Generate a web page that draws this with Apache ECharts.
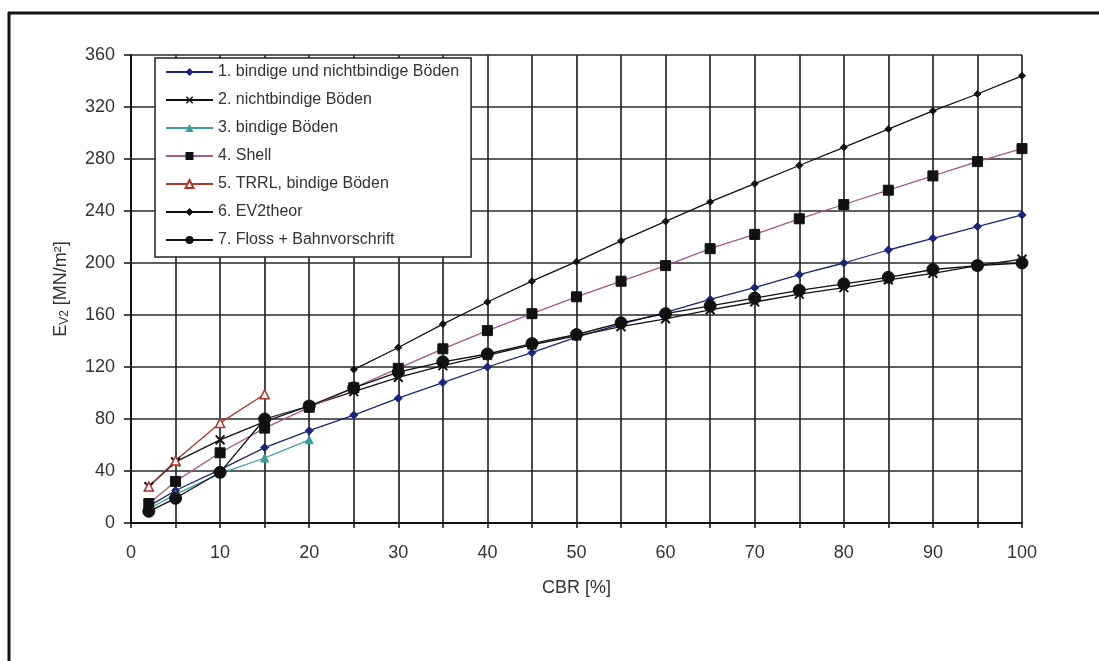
<!DOCTYPE html>
<html><head><meta charset="utf-8">
<script src="https://cdn.jsdelivr.net/npm/echarts@6/dist/echarts.min.js"></script>
<style>html,body{margin:0;padding:0;background:#fff}#c{width:1099px;height:661px}</style>
</head><body><div id="c"></div>
<script>
var xFull = [2,5,10,15,20,25,30,35,40,45,50,55,60,65,70,75,80,85,90,95,100];
var xShort = [2,5,10,15,20];
var xTrrl = [2,5,10,15];
var xTheor = [25,30,35,40,45,50,55,60,65,70,75,80,85,90,95,100];
var s1 = [13,25,41,58,71,83,96,108,120,131,143,153,162,172,181,191,200,210,219,228,237];
var s2 = [28,47,64,78,90,101,112,121,129,137,144,151,157,164,170,176,181,187,192,198,203];
var s3 = [11,22,38,50,64];
var s4 = [15,32,54,73,89,104,119,134,148,161,174,186,198,211,222,234,245,256,267,278,288];
var s5 = [28,48,77,99];
var s6 = [118,135,153,170,186,201,217,232,247,261,275,289,303,317,330,344];
var s7 = [9,19,39,80,90,104,116,124,130,138,145,154,161,167,173,179,184,189,195,198,200];
var names = ['1. bindige und nichtbindige Böden','2. nichtbindige Böden','3. bindige Böden','4. Shell','5. TRRL, bindige Böden','6. EV2theor','7. Floss + Bahnvorschrift'];
var yTicks = [0,40,80,120,160,200,240,280,320,360];
var xTicks = [0,10,20,30,40,50,60,70,80,90,100];

function pairs(xs, ys){ return xs.map(function(x,i){return [x, ys[i]];}); }
function ser(name, xs, ys, lineColor, symbol, size, mColor, extra){
  var o = {name:name, type:'line', data:pairs(xs,ys), symbol:symbol, symbolSize:size,
    lineStyle:{color:lineColor, width:1.3}, itemStyle:{color:mColor, borderColor:mColor},
    emphasis:{disabled:true}, animation:false, z:3};
  if (extra) for (var k in extra) o[k]=extra[k];
  return o;
}
var xIcon = 'image://data:image/svg+xml;utf8,'+encodeURIComponent('<svg xmlns="http://www.w3.org/2000/svg" width="10" height="10"><path d="M1 1L9 9M9 1L1 9" stroke="#111" stroke-width="1.8"/></svg>');
var chart = echarts.init(document.getElementById('c'));
chart.setOption({
  backgroundColor:'#fff',
  animation:false,
  textStyle:{fontFamily:'Liberation Sans, Arial, sans-serif'},
  grid:{left:131, right:77, top:55, bottom:138, containLabel:false},
  xAxis:{type:'value', min:0, max:100, interval:5,
    name:'CBR [%]', nameLocation:'middle', nameGap:56,
    nameTextStyle:{color:'#333', fontSize:18},
    axisLine:{lineStyle:{color:'#111', width:2}},
    axisTick:{show:true, length:5, lineStyle:{color:'#111', width:1.5}},
    axisLabel:{color:'#333', fontSize:18, margin:21,
      formatter:function(v){ return xTicks.indexOf(v)>=0 ? String(v) : ''; }},
    splitLine:{show:true, lineStyle:{color:'#2a2a2a', width:1.7}}
  },
  yAxis:{type:'value', min:0, max:360, interval:40,
    name:'E{sub|V2} [MN/m²]', nameLocation:'middle', nameGap:60, nameRotate:90,
    nameTextStyle:{color:'#333', fontSize:18, rich:{sub:{fontSize:12, verticalAlign:'bottom', padding:[8,0,0,0], color:'#333'}}},
    axisLine:{show:true, lineStyle:{color:'#111', width:2}},
    axisTick:{show:true, length:7, lineStyle:{color:'#111', width:1.5}},
    axisLabel:{color:'#333', fontSize:18, margin:16,
      formatter:function(v){ return yTicks.indexOf(v)>=0 ? String(v) : ''; }},
    splitLine:{show:true, lineStyle:{color:'#2a2a2a', width:1.7}}
  },
  legend:{orient:'vertical', left:155, top:58,
    backgroundColor:'#fff', borderColor:'#222', borderWidth:1.5,
    padding:[5,12,8,10], itemGap:10, itemWidth:47, itemHeight:10,
    textStyle:{color:'#333', fontSize:16, lineHeight:18},
    data:names, z:10},
  graphic:[
    {type:'line', shape:{x1:8, y1:13, x2:1099, y2:13}, style:{stroke:'#111', lineWidth:3}, z:100},
    {type:'line', shape:{x1:9, y1:12, x2:9, y2:661}, style:{stroke:'#111', lineWidth:3}, z:100}
  ],
  series:[
    ser(names[0], xFull, s1, '#1a237e', 'diamond', 8, '#1a237e'),
    ser(names[1], xFull, s2, '#111', xIcon, 11, '#111'),
    ser(names[2], xShort, s3, '#3a9e9e', 'triangle', 8, '#3a9e9e'),
    ser(names[3], xFull, s4, '#a05a8c', 'rect', 10, '#111'),
    ser(names[4], xTrrl, s5, '#b0352a', 'triangle', 9, '#fff', {itemStyle:{color:'#fff', borderColor:'#b0352a', borderWidth:1.5}}),
    ser(names[5], xTheor, s6, '#111', 'diamond', 7, '#111'),
    ser(names[6], xFull, s7, '#111', 'circle', 12, '#111')
  ]
});
</script></body></html>
